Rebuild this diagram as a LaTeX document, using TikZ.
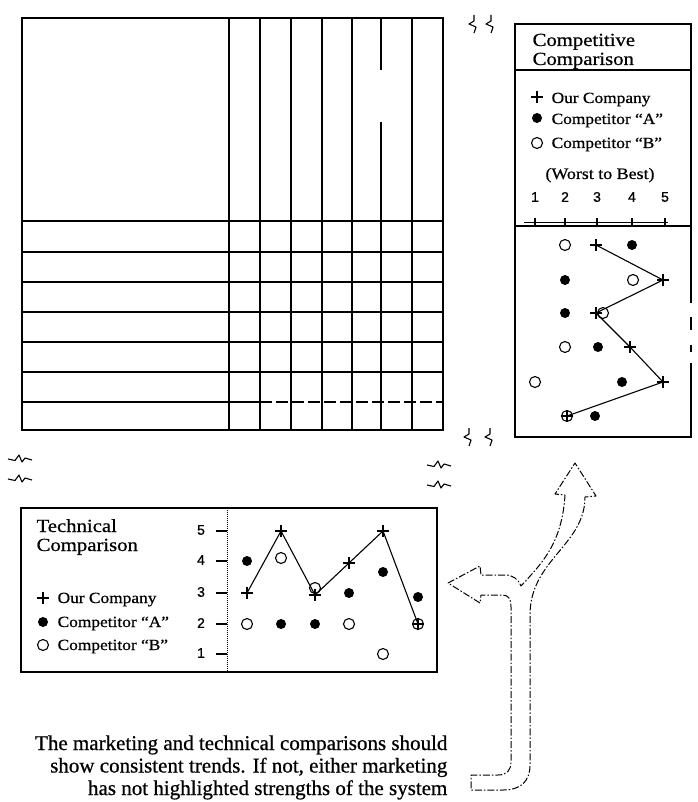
\documentclass[tikz,border=0pt]{standalone}
\usepackage{fontspec}
\setmainfont{Liberation Serif}[FakeStretch=1.12,FakeBold=0.6]
\newfontfamily\notefont{Liberation Serif}[FakeBold=0.6]
\newfontfamily\numfont{Liberation Sans}[FakeBold=0.8]
\begin{document}
\begin{tikzpicture}[x=1pt,y=-1pt,line width=1.25pt,
  txt/.style={inner sep=0pt,font=\fontsize{15.5}{16}\selectfont},
  head/.style={inner sep=0pt,font=\fontsize{18.5}{19}\selectfont},
  num/.style={inner sep=0pt,font=\numfont\fontsize{14}{14}\selectfont},
  note/.style={inner sep=0pt,font=\notefont\fontsize{21}{21}\selectfont},
  arrowline/.style={line width=1pt,line join=round,dash pattern=on 7pt off 2pt on 1.5pt off 2pt},
  pmark/.pic={\draw[line width=1.1pt] (-6,0)--(6,0) (0,-6)--(0,6);},
  fdot/.pic={\fill (0,0) circle (5);},
  odot/.pic={\draw[line width=1.1pt] (0,0) circle (5.5);},
  vbrk/.pic={\draw[line width=1.1pt,line join=round] (1,-9)--(1,-3)--(-4,0)--(3,3)--(1,9);},
  hbrk/.pic={\draw[line width=1.1pt,line join=round] (-12,0)--(-5,1.5)--(-1,-4)--(2,3)--(5,-1)--(12,1);}
]
\useasboundingbox (0,0) rectangle (697,802);
\fill[white] (0,0) rectangle (697,802);

% ---------------- matrix ----------------
\draw (22,18) rectangle (443,430);
\foreach \x in {229,260,291,322,352,412} \draw (\x,18)--(\x,430);
\draw (381,18)--(381,70) (381,122)--(381,430);
\foreach \y in {221,252,282,312,342,372} \draw (22,\y)--(443,\y);
\draw (22,402)--(260,402);
\draw[dash pattern=on 12pt off 4pt] (260,402)--(443,402);

% ---------------- break marks ----------------
\pic at (473,24) {vbrk};
\pic at (490,24) {vbrk};
\pic at (468,437) {vbrk};
\pic at (489,437) {vbrk};
\pic at (20,459) {hbrk};
\pic at (20,479) {hbrk};
\pic at (439,465) {hbrk};
\pic at (439,485) {hbrk};

% ---------------- competitive comparison ----------------
\draw (691,303)--(691,24)--(515,24)--(515,437)--(691,437)--(691,363);
\draw (691,317)--(691,330) (691,345)--(691,352);
\draw (515,70)--(691,70);
\draw (515,226)--(691,226);
\node[head,anchor=base west] (cch1) at (532,46) {Competitive};
\node[head,anchor=base west] (cch2) at (532,65) {Comparison};
\pic at (537,97) {pmark};
\pic at (537,118) {fdot};
\pic at (537,143) {odot};
\node[txt,anchor=base west] (cl1) at (551,103) {Our Company};
\node[txt,anchor=base west] (cl2) at (551,124) {Competitor ``A''};
\node[txt,anchor=base west] (cl3) at (551,148) {Competitor ``B''};
\node[txt,anchor=base,font=\fontsize{16}{16}\selectfont] (cws) at (600,179) {(Worst to Best)};
\foreach \x/\n in {535/1,565/2,597/3,632/4,665/5}{
  \node[num] (cn\n) at (\x,197) {\n};
  \draw (\x,218)--(\x,226);
}
\draw[line width=1pt] (524,223)--(668,223);
\coordinate (cp1) at (596,245);
\coordinate (cp2) at (663,280);
\coordinate (cp3) at (596,313);
\coordinate (cp4) at (630,347);
\coordinate (cp5) at (663,382);
\coordinate (cp6) at (567,416);
\draw[line width=1.1pt] (cp1)--(cp2)--(cp3)--(cp4)--(cp5)--(cp6);
\foreach \c in {cp1,cp2,cp3,cp4,cp5,cp6} \pic at (\c) {pmark};
\foreach \p in {(632,245),(565,280),(565,313),(598,347),(622,382),(595,416)} \pic at \p {fdot};
\foreach \p in {(565,245),(633,280),(603,313),(565,347),(535,382),(567,416)} \pic at \p {odot};

% ---------------- technical comparison ----------------
\draw (21,508) rectangle (437,672);
\draw[line width=1pt,densely dotted] (227,508)--(227,672);
\foreach \y/\n in {531/5,561/4,593/3,624/2,654/1}{
  \draw (216,\y)--(227,\y);
  \node[num] (tn\n) at (201,\y-1) {\n};
}
\node[head,anchor=base west] (tch1) at (36,532) {Technical};
\node[head,anchor=base west] (tch2) at (36,551) {Comparison};
\pic at (43,598) {pmark};
\pic at (43,622) {fdot};
\pic at (43,645) {odot};
\node[txt,anchor=base west] (tl1) at (57,603) {Our Company};
\node[txt,anchor=base west] (tl2) at (57,627) {Competitor ``A''};
\node[txt,anchor=base west] (tl3) at (57,650) {Competitor ``B''};
\coordinate (tp1) at (247,593);
\coordinate (tp2) at (281,531);
\coordinate (tp3) at (315,595);
\coordinate (tp4) at (349,563);
\coordinate (tp5) at (383,531);
\coordinate (tp6) at (418,624);
\draw[line width=1.1pt] (tp1)--(tp2)--(tp3)--(tp4)--(tp5)--(tp6);
\foreach \c in {tp1,tp2,tp3,tp4,tp5,tp6} \pic at (\c) {pmark};
\foreach \p in {(247,561),(281,624),(315,624),(349,593),(383,572),(418,597)} \pic at \p {fdot};
\foreach \p in {(247,624),(281,558),(315,588),(349,624),(383,654),(418,624)} \pic at \p {odot};

% ---------------- branching arrow ----------------
\draw[arrowline] (448,583) -- (480,566) -- (481,575) -- (505,575)
  .. controls (513,575) and (518,579) .. (521,586)
  .. controls (540,565) and (562,545) .. (565,495)
  -- (555,494) -- (575,463) -- (596,496) -- (585,497)
  .. controls (585,545) and (530,560) .. (530,615)
  -- (530,765) .. controls (530,782) and (520,790) .. (503,790)
  -- (471,790) -- (471,775) -- (498,775)
  .. controls (507,775) and (511,770) .. (511,762)
  -- (511,607) .. controls (511,598) and (508,595) .. (502,595)
  -- (481,595) -- (480,603) -- cycle;

% ---------------- note ----------------
\node[note,anchor=base east] (n1) at (448,750) {The marketing and technical comparisons should};
\node[note,anchor=base east] (n2) at (448,772.5) {show consistent trends. If not, either marketing};
\node[note,anchor=base east] (n3) at (448,795) {has not highlighted strengths of the system};
\end{tikzpicture}
\end{document}
